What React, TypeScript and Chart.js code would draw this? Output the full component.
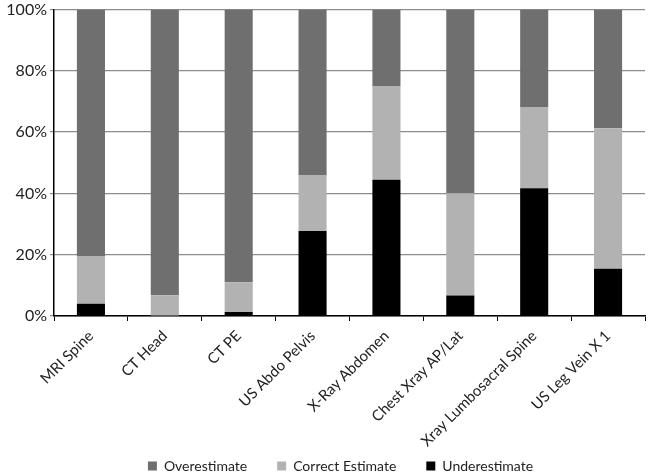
import React, { useEffect, useRef } from "react";
import { Chart, registerables } from "chart.js";

Chart.register(...registerables);

const categories = [
  "MRI Spine",
  "CT Head",
  "CT PE",
  "US Abdo Pelvis",
  "X-Ray Abdomen",
  "Chest Xray AP/Lat",
  "Xray Lumbosacral Spine",
  "US Leg Vein X 1",
];
const underestimate = [4.0, 0, 1.3, 27.7, 44.4, 6.7, 41.7, 15.4];
const correctEstimate = [15.6, 6.8, 9.7, 18.1, 30.6, 33.3, 26.3, 45.8];
const overestimate = [80.4, 93.2, 89.0, 54.2, 25.0, 60.0, 32.0, 38.8];
const yTicks = [0, 20, 40, 60, 80, 100];

const FONT = "Lato, 'Open Sans', sans-serif";

const fixLayout = {
  id: "fixLayout",
  afterLayout(chart: any) {
    if (chart.legend) {
      chart.legend.left += 18;
      chart.legend.right += 18;
    }
    if (chart.scales && chart.scales.x) {
      chart.scales.x.bottom += 40;
    }
  },
};

export default function App() {
  const ref = useRef<HTMLCanvasElement | null>(null);
  useEffect(() => {
    if (!ref.current) return;
    const chart = new Chart(ref.current, {
      type: "bar",
      data: {
        labels: categories,
        datasets: [
          { label: "Underestimate", data: underestimate, backgroundColor: "#000000" },
          { label: "Correct Estimate", data: correctEstimate, backgroundColor: "#b2b2b2" },
          { label: "Overestimate", data: overestimate, backgroundColor: "#6f6f6f" },
        ],
      },
      plugins: [fixLayout],
      options: {
        animation: false,
        responsive: false,
        maintainAspectRatio: false,
        datasets: { bar: { categoryPercentage: 1, barPercentage: 0.38 } },
        layout: { padding: { left: 0, right: 5, top: 0, bottom: -8 } },
        plugins: {
          tooltip: { enabled: false },
          legend: {
            position: "bottom",
            reverse: true,
            labels: {
              boxWidth: 9,
              boxHeight: 9,
              padding: 30,
              color: "#222",
              font: { family: FONT, size: 14 },
            },
          },
        },
        scales: {
          x: {
            stacked: true,
            border: { color: "#000", width: 1.5 },
            grid: { offset: true, drawOnChartArea: false, drawTicks: true, tickLength: 5, tickColor: "#000" },
            ticks: {
              minRotation: 45,
              maxRotation: 45,
              color: "#222",
              font: { family: FONT, size: 15 },
              padding: 6,
            },
            afterFit: (s: any) => {
              s.height = 113;
            },
          },
          y: {
            stacked: true,
            min: 0,
            max: 100,
            border: { color: "#000", width: 1.5 },
            grid: { color: "#8c8c8c", lineWidth: 1.2, tickLength: 4, tickColor: "#8c8c8c" },
            afterBuildTicks: (s: any) => {
              s.ticks = yTicks.map((v) => ({ value: v }));
            },
            ticks: {
              color: "#222",
              font: { family: FONT, size: 16, lineHeight: 0.8 },
              padding: 3,
              callback: (v: any) => v + "%",
            },
            afterFit: (s: any) => {
              s.width = 54;
            },
          },
        },
      },
    });
    return () => chart.destroy();
  }, []);
  return (
    <div style={{ position: "fixed", left: 0, top: 0, width: 650, height: 475, background: "#fff" }}>
      <canvas ref={ref} width={650} height={475} style={{ width: 650, height: 475 }} />
    </div>
  );
}
